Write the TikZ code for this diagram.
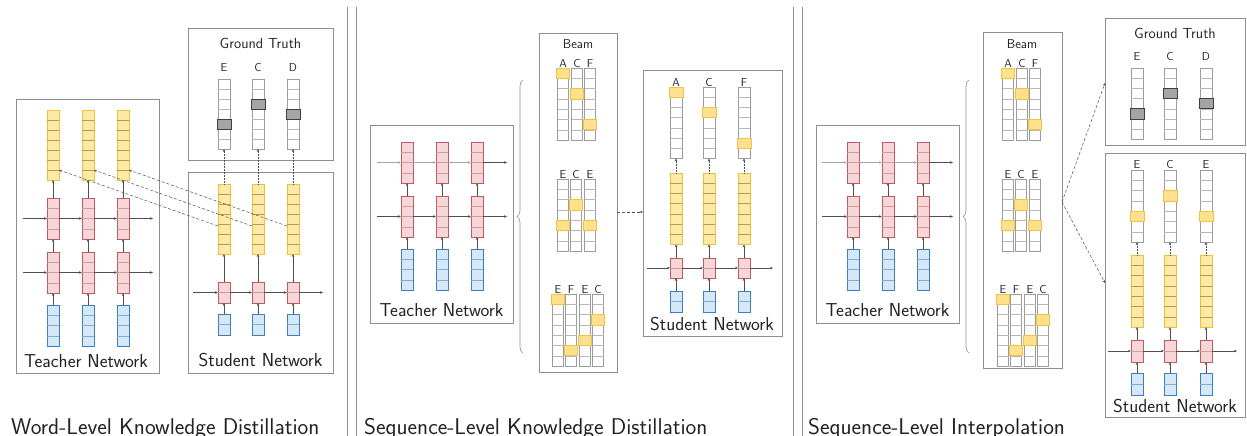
\documentclass[tikz,border=0pt]{standalone}
\usetikzlibrary{arrows.meta,decorations.pathreplacing,calc}
\definecolor{ylight}{HTML}{FFE9A6}
\definecolor{ydark}{HTML}{EBC13F}
\definecolor{ydiv}{HTML}{B99A45}
\definecolor{plight}{HTML}{F7D6D7}
\definecolor{pdark}{HTML}{BE5A62}
\definecolor{pdiv}{HTML}{D39A9E}
\definecolor{blight}{HTML}{D4E8F8}
\definecolor{bdark}{HTML}{3D7FBE}
\definecolor{bdiv}{HTML}{7FAAD3}
\definecolor{wline}{HTML}{9C9C9C}
\definecolor{wdiv}{HTML}{B8B8B8}
\definecolor{boxgray}{HTML}{8E8E8E}
\definecolor{arrgray}{HTML}{4F4F4F}
\definecolor{lightarr}{HTML}{A8A8A8}
\definecolor{gfill}{HTML}{A4A4A4}
\definecolor{gdark}{HTML}{3F3F3F}
\definecolor{hfill}{HTML}{FFE08C}
\definecolor{hdark}{HTML}{EFC34A}
\definecolor{txt}{HTML}{222222}
\tikzset{
  colbase/.style={anchor=north, inner sep=0pt, outer sep=0pt, line width=0.8pt},
  yel/.style={colbase, draw=ydark, fill=ylight},
  pnk/.style={colbase, draw=pdark, fill=plight},
  blu/.style={colbase, draw=bdark, fill=blight},
  wht/.style={colbase, draw=wline, fill=white, line width=0.6pt},
  panel/.style={draw=boxgray, line width=0.8pt, anchor=north west, inner sep=0pt, outer sep=0pt},
  arr/.style={draw=arrgray, line width=0.5pt, -{Stealth[length=3pt,width=2.6pt]}},
  larr/.style={arr, draw=lightarr},
  darr/.style={arr, densely dashed},
  dotarr/.style={arr, densely dotted},
  hy/.style={fill=hfill, draw=hdark, line width=0.8pt},
  hg/.style={fill=gfill, draw=gdark, line width=0.9pt},
  lbl/.style={font=\sffamily\fontsize{18.7}{21}\selectfont, text=txt, inner sep=0pt},
  gtl/.style={font=\sffamily\fontsize{14.6}{17}\selectfont, text=txt, inner sep=0pt},
  bml/.style={font=\sffamily\fontsize{13}{15}\selectfont, text=txt, inner sep=0pt},
  ltr/.style={font=\sffamily\fontsize{11.5}{13}\selectfont, text=txt, inner sep=0pt, anchor=base},
  ttl/.style={font=\sffamily\fontsize{22.8}{26}\selectfont, text=txt, inner sep=0pt, anchor=base west},
  sepline/.style={draw=boxgray, line width=0.9pt},
  bracest/.style={draw=boxgray, line width=0.6pt, decorate, decoration={brace, amplitude=6pt}},
}
% column: name, x, top, ncells, cell h, width, style, divider colour
\newcommand\ccol[8]{%
  \node[#7, minimum width=#6pt, minimum height=#4*#5pt] (#1) at (#2,#3) {};
  \pgfmathtruncatemacro\ccn{#4-1}%
  \foreach \k in {1,...,\ccn}{\draw[#8, line width=0.4pt] ([yshift=-\k*#5pt]#1.north west) -- ([yshift=-\k*#5pt]#1.north east);}%
}
% highlighted cell: name, index, cell h, style
\newcommand\hcell[4]{%
  \draw[#4] ([xshift=-1pt,yshift=-#2*#3pt]#1.north west) rectangle ([xshift=1pt,yshift=-#2*#3pt-#3pt]#1.north east);%
}
% teacher network of panels 2 and 3: prefix, x1, x2, x3, line start, line end
\newcommand\tnet[6]{%
  \foreach \i/\x in {1/#2,2/#3,3/#4}{%
    \ccol{#1p\i}{\x}{142}{4}{10.25}{12}{pnk}{pdiv}
    \ccol{#1q\i}{\x}{196}{4}{10.25}{12}{pnk}{pdiv}
    \ccol{#1b\i}{\x}{249}{4}{10.25}{12}{blu}{bdiv}
    \draw[arr] (#1b\i.north) -- (#1q\i.south);
    \draw[arr] (#1q\i.north) -- (#1p\i.south);
  }
  \coordinate (#1u0) at (#5,162.5); \coordinate (#1u4) at (#6,162.5);
  \coordinate (#1l0) at (#5,216.5); \coordinate (#1l4) at (#6,216.5);
  \draw[larr] (#1u0) -- (#1p1.west); \draw[larr] (#1p1.east) -- (#1p2.west);
  \draw[larr] (#1p2.east) -- (#1p3.west); \draw[arr] (#1p3.east) -- (#1u4);
  \draw[arr] (#1l0) -- (#1q1.west); \draw[arr] (#1q1.east) -- (#1q2.west);
  \draw[arr] (#1q2.east) -- (#1q3.west); \draw[arr] (#1q3.east) -- (#1l4);
}
% beam box contents: prefix, x shift
\newcommand\beam[2]{%
  \begin{scope}[xshift=#2pt]
  \foreach \i/\x/\l/\h in {1/563/A/0,2/577/C/2,3/590/F/5}{%
    \ccol{#1a\i}{\x}{68}{7}{10.3}{11}{wht}{wdiv}
    \hcell{#1a\i}{\h}{10.3}{hy}
    \node[ltr] (#1al\i) at (\x,67) {\l};
  }
  \foreach \i/\x/\l/\h in {1/563/E/4,2/576/C/2,3/590/E/4}{%
    \ccol{#1b\i}{\x}{179}{7}{10.3}{11}{wht}{wdiv}
    \hcell{#1b\i}{\h}{10.3}{hy}
    \node[ltr] (#1bl\i) at (\x,178) {\l};
  }
  \foreach \i/\x/\l/\h in {1/558/E/0,2/571/F/5,3/585/E/4,4/598/C/2}{%
    \ccol{#1c\i}{\x}{294}{7}{10.3}{11}{wht}{wdiv}
    \hcell{#1c\i}{\h}{10.3}{hy}
    \node[ltr] (#1cl\i) at (\x,293) {\l};
  }
  \end{scope}
}
\begin{document}
\begin{tikzpicture}[x=1pt,y=-1pt]
\useasboundingbox (0,0) rectangle (1247,436);
\fill[white] (0,0) rectangle (1247,436);

% separators
\draw[sepline] (347,7) -- (347,436);
\draw[sepline] (356,7) -- (356,436);
\draw[sepline] (793,7) -- (793,436);
\draw[sepline] (802,7) -- (802,436);

% titles
\node[ttl] (title1) at (11,434) {Word-Level Knowledge Distillation};
\node[ttl] (title2) at (364,434) {Sequence-Level Knowledge Distillation};
\node[ttl] (title3) at (808,434) {Sequence-Level Interpolation};

%================ Panel 1 =================
\node[panel, minimum width=143pt, minimum height=274pt] (t1box) at (16,99) {};
\node[lbl] (t1lab) at (86,361) {Teacher Network};
\foreach \i/\x in {1/53,2/88,3/123}{%
  \ccol{t1y\i}{\x}{110}{7}{10}{12}{yel}{ydiv}
  \ccol{t1p\i}{\x}{198}{4}{10.25}{12}{pnk}{pdiv}
  \ccol{t1q\i}{\x}{252}{4}{10.25}{12}{pnk}{pdiv}
  \ccol{t1b\i}{\x}{305}{4}{10.25}{12}{blu}{bdiv}
  \draw[arr] (t1b\i.north) -- (t1q\i.south);
  \draw[arr] (t1q\i.north) -- (t1p\i.south);
  \draw[arr] (t1p\i.north) -- (t1y\i.south);
}
\coordinate (t1u0) at (23,218.5); \coordinate (t1u4) at (153,218.5);
\coordinate (t1l0) at (23,272.5); \coordinate (t1l4) at (153,272.5);
\draw[arr] (t1u0) -- (t1p1.west); \draw[arr] (t1p1.east) -- (t1p2.west);
\draw[arr] (t1p2.east) -- (t1p3.west); \draw[arr] (t1p3.east) -- (t1u4);
\draw[arr] (t1l0) -- (t1q1.west); \draw[arr] (t1q1.east) -- (t1q2.west);
\draw[arr] (t1q2.east) -- (t1q3.west); \draw[arr] (t1q3.east) -- (t1l4);

% ground truth 1
\node[panel, minimum width=145pt, minimum height=132pt] (g1box) at (188,28) {};
\node[gtl] (g1lab) at (260.5,43) {Ground Truth};
\foreach \i/\x/\l/\h in {1/224/E/4,2/258/C/2,3/293/D/3}{%
  \ccol{g1c\i}{\x}{79}{7}{10}{12}{wht}{wdiv}
  \hcell{g1c\i}{\h}{10}{hg}
  \node[ltr] (g1l\i) at (\x,71) {\l};
}
% student 1
\node[panel, minimum width=145pt, minimum height=201pt] (s1box) at (188,172) {};
\node[lbl] (s1lab) at (260.5,360) {Student Network};
\foreach \i/\x in {1/224,2/258,3/293}{%
  \ccol{s1y\i}{\x}{184}{7}{10}{12}{yel}{ydiv}
  \ccol{s1p\i}{\x}{282}{2}{10.5}{12}{pnk}{pdiv}
  \ccol{s1b\i}{\x}{314}{2}{10.5}{12}{blu}{bdiv}
  \draw[arr] (s1b\i.north) -- (s1p\i.south);
  \draw[arr] (s1p\i.north) -- (s1y\i.south);
  \draw[dotarr] (s1y\i.north) -- (g1c\i.south);
  % word-level distillation link (student output -> teacher output)
  \draw[darr] ([yshift=-42pt]s1y\i.north west) -- ([yshift=10pt]t1y\i.south east);
}
\coordinate (s1l0) at (193,292.5); \coordinate (s1l4) at (323,292.5);
\draw[arr] (s1l0) -- (s1p1.west); \draw[arr] (s1p1.east) -- (s1p2.west);
\draw[arr] (s1p2.east) -- (s1p3.west); \draw[arr] (s1p3.east) -- (s1l4);

%================ Panel 2 =================
\node[panel, minimum width=143pt, minimum height=198pt] (t2box) at (370,125) {};
\node[lbl] (t2lab) at (441.5,310) {Teacher Network};
\tnet{t2}{407}{442}{477}{377}{507}
\coordinate (br2s) at (523,353); \coordinate (br2n) at (523,80);
\draw[bracest] (br2s) -- (br2n);
\node[panel, minimum width=78pt, minimum height=339pt] (b2box) at (539,33) {};
\node[bml] (b2lab) at (578,44) {Beam};
\beam{b2}{0}
\node[panel, minimum width=139pt, minimum height=266pt] (s2box) at (643,70) {};
\node[lbl] (s2lab) at (712,324) {Student Network};
\coordinate (b2out) at (617,212); \coordinate (s2in) at (643,212);
\draw[darr] (b2out) -- (s2in);
\foreach \i/\x/\l/\h in {1/676/A/0,2/709/C/2,3/744/F/5}{%
  \ccol{s2o\i}{\x}{87}{7}{10.2}{12}{wht}{wdiv}
  \hcell{s2o\i}{\h}{10.2}{hy}
  \node[ltr] (s2ol\i) at (\x,86) {\l};
  \ccol{s2y\i}{\x}{173}{7}{10.2}{12}{yel}{ydiv}
  \ccol{s2p\i}{\x}{258}{2}{10}{12}{pnk}{pdiv}
  \ccol{s2b\i}{\x}{291}{2}{10.5}{12}{blu}{bdiv}
  \draw[arr] (s2b\i.north) -- (s2p\i.south);
  \draw[arr] (s2p\i.north) -- (s2y\i.south);
  \draw[dotarr] (s2y\i.north) -- (s2o\i.south);
}
\coordinate (s2l0) at (647,268); \coordinate (s2l4) at (773,268);
\draw[arr] (s2l0) -- (s2p1.west); \draw[arr] (s2p1.east) -- (s2p2.west);
\draw[arr] (s2p2.east) -- (s2p3.west); \draw[arr] (s2p3.east) -- (s2l4);

%================ Panel 3 =================
\node[panel, minimum width=143pt, minimum height=198pt] (t3box) at (816,125) {};
\node[lbl] (t3lab) at (887.5,310) {Teacher Network};
\tnet{t3}{853}{888}{923}{822}{953}
\coordinate (br3s) at (969,353); \coordinate (br3n) at (969,80);
\draw[bracest] (br3s) -- (br3n);
\node[panel, minimum width=79pt, minimum height=336pt] (b3box) at (983,32) {};
\node[bml] (b3lab) at (1022,44) {Beam};
\beam{b3}{445}
% ground truth 3
\node[panel, minimum width=140pt, minimum height=127pt] (g3box) at (1105,18) {};
\node[gtl] (g3lab) at (1175,33) {Ground Truth};
\foreach \i/\x/\l/\h in {1/1137/E/4,2/1170/C/2,3/1206/D/3}{%
  \ccol{g3c\i}{\x}{68}{7}{10.2}{12}{wht}{wdiv}
  \hcell{g3c\i}{\h}{10.2}{hg}
  \node[ltr] (g3l\i) at (\x,61) {\l};
}
% student 3
\node[panel, minimum width=140pt, minimum height=264pt] (s3box) at (1105,153) {};
\node[lbl] (s3lab) at (1175,406) {Student Network};
\foreach \i/\x/\l/\h in {1/1137/E/4,2/1170/C/2,3/1206/E/4}{%
  \ccol{s3o\i}{\x}{170}{7}{10.3}{12}{wht}{wdiv}
  \hcell{s3o\i}{\h}{10.3}{hy}
  \node[ltr] (s3ol\i) at (\x,168) {\l};
  \ccol{s3y\i}{\x}{255}{7}{10.3}{12}{yel}{ydiv}
  \ccol{s3p\i}{\x}{340}{2}{11}{12}{pnk}{pdiv}
  \ccol{s3b\i}{\x}{373}{2}{11}{12}{blu}{bdiv}
  \draw[arr] (s3b\i.north) -- (s3p\i.south);
  \draw[arr] (s3p\i.north) -- (s3y\i.south);
  \draw[dotarr] (s3y\i.north) -- (s3o\i.south);
}
\coordinate (s3l0) at (1108,351); \coordinate (s3l4) at (1237,351);
\draw[arr] (s3l0) -- (s3p1.west); \draw[arr] (s3p1.east) -- (s3p2.west);
\draw[arr] (s3p2.east) -- (s3p3.west); \draw[arr] (s3p3.east) -- (s3l4);
% interpolation links
\coordinate (b3out) at (1062,202);
\coordinate (g3in) at (1105,83);
\coordinate (s3in) at (1105,283);
\draw[darr] (b3out) -- (g3in);
\draw[darr] (b3out) -- (s3in);
\end{tikzpicture}
\end{document}
